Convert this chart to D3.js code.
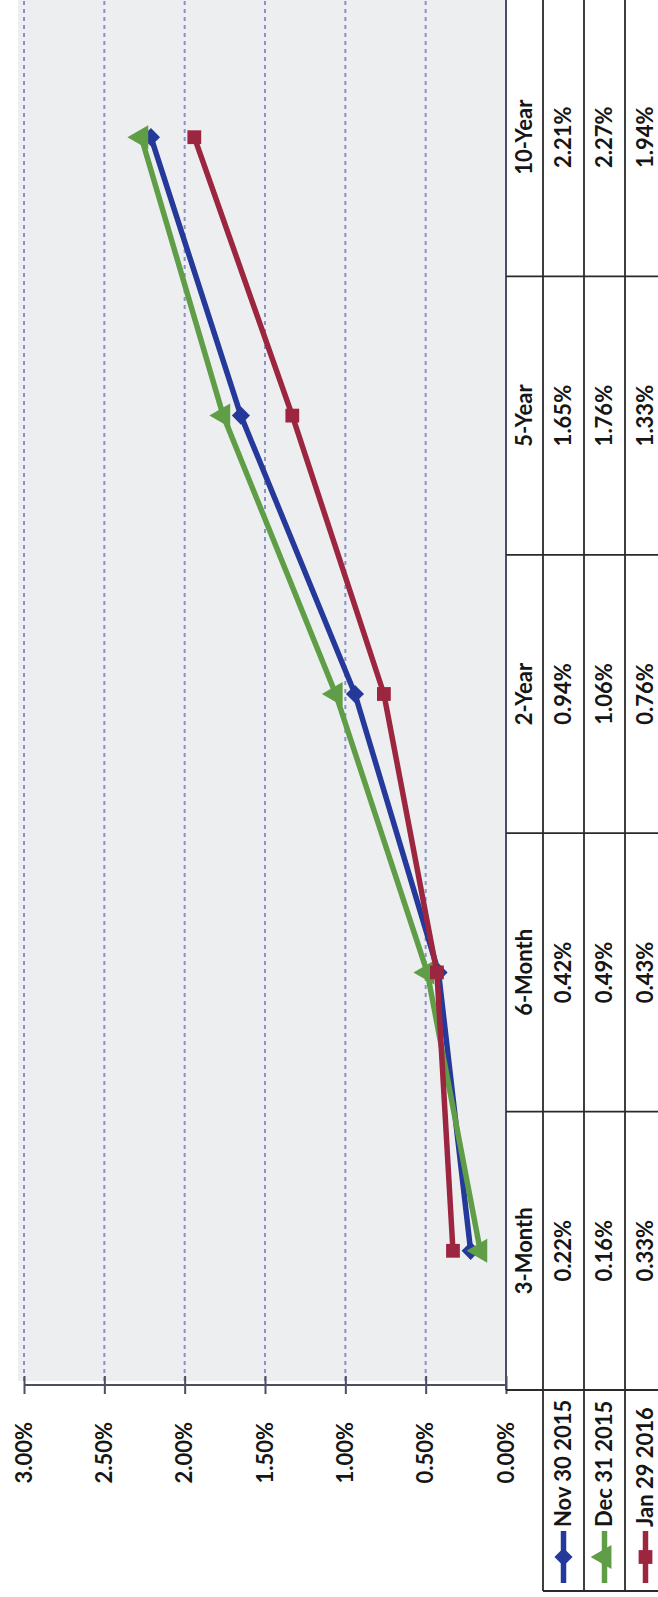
<!DOCTYPE html>
<html>
<head>
<meta charset="utf-8">
<style>
    body { margin: 0; background: #fff; }
    svg { display: block; font-family: Lato, "Open Sans", sans-serif; }
    .axis text { font-family: Lato, "Open Sans", sans-serif; font-size: 22px; fill: #161616; font-weight: bold; }
    .axis .domain { stroke: #4a4f63; stroke-width: 2; }
    .axis .tick line { stroke: #4a4f63; stroke-width: 2; }
    .tbl text { font-size: 22px; fill: #161616; font-weight: bold; }
    .tbl line { stroke: #2a2a2a; stroke-width: 1.8; }
</style>
</head>
<body>
<svg width="658" height="1597"></svg>
<script src="https://d3js.org/d3.v7.min.js"></script>
<script>
    const categories = ["3-Month", "6-Month", "2-Year", "5-Year", "10-Year"];
    const seriesNames = ["Nov 30 2015", "Dec 31 2015", "Jan 29 2016"];
    const nov30 = [0.22, 0.42, 0.94, 1.65, 2.21];
    const dec31 = [0.16, 0.49, 1.06, 1.76, 2.27];
    const jan29 = [0.33, 0.43, 0.76, 1.33, 1.94];
    const valueTicks = [0, 0.5, 1, 1.5, 2, 2.5, 3];

    const colors = ["#24399a", "#5f9e46", "#9c2640"];
    const shapes = [d3.symbolDiamond2 || d3.symbolDiamond, d3.symbolTriangle, d3.symbolSquare];
    const shapeSize = [210, 250, 190];

    let series = [nov30, dec31, jan29].map(function (vals, i) {
        return { name: seriesNames[i], values: vals.map((v, j) => ({ cat: categories[j], v: v })) };
    });

    // chart is laid out landscape, then turned a quarter turn counter-clockwise (page is a rotated scan)
    let W = 1597;
    let svg = d3.select("svg");
    let g = svg.append("g").attr("transform", `translate(0,${W}) rotate(-90)`);

    let x = d3.scaleBand().domain(categories).range([207, W + 2]);
    let y = d3.scaleLinear().domain([0, 3]).range([506, 24]);

    // plot area
    g.append("rect")
        .attr("x", 216).attr("y", 18)
        .attr("width", W + 10 - 216).attr("height", 506 - 18)
        .style("fill", "#eceef0");

    // dashed gridlines
    g.append("g")
        .selectAll("line")
        .data(valueTicks.filter(d => d > 0))
        .join("line")
        .attr("x1", 216).attr("x2", W + 10)
        .attr("y1", d => y(d)).attr("y2", d => y(d))
        .style("stroke", "#8a90c8")
        .style("stroke-width", 2)
        .style("stroke-dasharray", "4,4");

    // value axis
    let yAxis = d3.axisLeft(y)
        .tickValues(valueTicks)
        .tickSize(10)
        .tickPadding(27)
        .tickSizeOuter(0)
        .tickFormat(d => d3.format(".2f")(d) + "%");

    g.append("g")
        .attr("class", "axis")
        .attr("transform", "translate(212,0)")
        .call(yAxis)
        .call(g => g.selectAll(".tick line").attr("x2", 9).attr("x1", -9))
        .call(g => g.select(".domain").attr("d", `M0,${y(3)}V${y(0)}`));

    // category baseline (0%)
    g.append("line")
        .attr("x1", 207).attr("x2", W + 10)
        .attr("y1", y(0)).attr("y2", y(0))
        .style("stroke", "#4a4f63")
        .style("stroke-width", 2);

    // lines and markers
    let line = d3.line()
        .x(d => x(d.cat) + x.bandwidth() / 2)
        .y(d => y(d.v));

    series.forEach(function (s, i) {
        g.append("path")
            .datum(s.values)
            .attr("d", line)
            .style("fill", "none")
            .style("stroke", colors[i])
            .style("stroke-width", 5.5)
            .style("stroke-linejoin", "round");

        g.append("g")
            .selectAll("path")
            .data(s.values)
            .join("path")
            .attr("d", d3.symbol().type(shapes[i]).size(shapeSize[i]))
            .attr("transform", d => `translate(${x(d.cat) + x.bandwidth() / 2},${y(d.v)})`)
            .style("fill", colors[i]);
    });

    // data table below the plot
    let rows = [506, 543, 584, 625, 666];
    let tbl = g.append("g").attr("class", "tbl");

    // column borders
    tbl.selectAll(".col")
        .data(categories)
        .join("line")
        .attr("class", "col")
        .attr("x1", d => x(d)).attr("x2", d => x(d))
        .attr("y1", rows[0]).attr("y2", rows[4]);

    tbl.append("line")
        .attr("x1", 6).attr("x2", 6)
        .attr("y1", rows[1]).attr("y2", rows[4]);

    tbl.selectAll(".row")
        .data(rows.slice(1))
        .join("line")
        .attr("class", "row")
        .attr("x1", 6).attr("x2", W + 10)
        .attr("y1", d => d).attr("y2", d => d);

    // category names
    tbl.selectAll(".cat")
        .data(categories)
        .join("text")
        .attr("class", "cat")
        .attr("x", d => x(d) + x.bandwidth() / 2)
        .attr("y", (rows[0] + rows[1]) / 2)
        .attr("dy", "0.35em")
        .attr("text-anchor", "middle")
        .text(d => d);

    series.forEach(function (s, i) {
        let cy = (rows[i + 1] + rows[i + 2]) / 2;

        tbl.append("g")
            .selectAll("text")
            .data(s.values)
            .join("text")
            .attr("x", d => x(d.cat) + x.bandwidth() / 2)
            .attr("y", cy)
            .attr("dy", "0.35em")
            .attr("text-anchor", "middle")
            .text(d => d3.format(".2f")(d.v) + "%");

        // legend key
        tbl.append("line")
            .attr("x1", 14).attr("x2", 66)
            .attr("y1", cy).attr("y2", cy)
            .style("stroke", colors[i])
            .style("stroke-width", 5.5);

        tbl.append("path")
            .attr("d", d3.symbol().type(shapes[i]).size(shapeSize[i]))
            .attr("transform", `translate(40,${cy})`)
            .style("fill", colors[i]);

        tbl.append("text")
            .attr("x", 70)
            .attr("y", cy)
            .attr("dy", "0.35em")
            .text(s.name);
    });
</script>
</body>
</html>
